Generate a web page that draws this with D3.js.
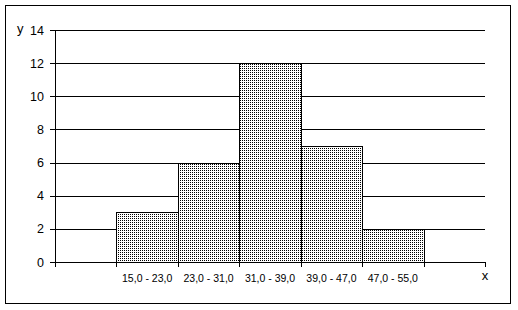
<!DOCTYPE html>
<html>
<head>
<meta charset="utf-8">
<script src="https://cdn.jsdelivr.net/npm/d3@7"></script>
<style>
body{margin:0;background:#fff}
svg text{font-family:"Liberation Sans",Arial,sans-serif;fill:#000}
</style>
</head>
<body>
<svg id="chart"></svg>
<script>
// histogram data
var binEdges=[15,23,31,39,47,55]
var counts=[3,6,12,7,2]
var binLabels=["15,0 - 23,0","23,0 - 31,0","31,0 - 39,0","39,0 - 47,0","47,0 - 55,0"]
var yTicks=[0,2,4,6,8,10,12,14]

var screen={width:518,height:310}
var margins={top:30,bottom:48,left:55,right:33}

var svg=d3.select("#chart")
    .attr("width",screen.width)
    .attr("height",screen.height)
    .attr("shape-rendering","crispEdges")

//dotted fill like the old spreadsheet pattern
var pat=svg.append("defs").append("pattern")
    .attr("id","dots")
    .attr("width",2)
    .attr("height",2)
    .attr("patternUnits","userSpaceOnUse")
pat.append("rect").attr("width",2).attr("height",2).attr("fill","#fff").attr("shape-rendering","crispEdges")
pat.append("rect").attr("width",1).attr("height",1).attr("fill","#000").attr("shape-rendering","crispEdges")

//outer frame
svg.append("rect")
    .attr("x",5.5).attr("y",5.5)
    .attr("width",505).attr("height",298)
    .attr("fill","none").attr("stroke","#000")

var step=binEdges[1]-binEdges[0]
var xScale=d3.scaleLinear()
    .domain([binEdges[0]-step,binEdges[binEdges.length-1]+step])
    .range([margins.left,screen.width-margins.right])
var yScale=d3.scaleLinear()
    .domain([0,14])
    .range([screen.height-margins.bottom,margins.top])

//gridlines
svg.append("g")
    .selectAll("line")
    .data(yTicks.filter(function(d){return d>0}))
    .enter()
    .append("line")
    .attr("x1",xScale.range()[0])
    .attr("x2",xScale.range()[1])
    .attr("y1",function(d){return Math.round(yScale(d))+0.5})
    .attr("y2",function(d){return Math.round(yScale(d))+0.5})
    .attr("stroke","#000")

//bars
svg.append("g")
    .selectAll("rect")
    .data(counts)
    .enter()
    .append("rect")
    .attr("x",function(d,i){return Math.round(xScale(binEdges[i]))+0.5})
    .attr("width",function(d,i){return Math.round(xScale(binEdges[i+1]))-Math.round(xScale(binEdges[i]))})
    .attr("y",function(d){return Math.round(yScale(d))+0.5})
    .attr("height",function(d){return Math.round(yScale(0))-Math.round(yScale(d))})
    .attr("fill","url(#dots)")
    .attr("stroke","#000")

//y axis
var yAxis=svg.append("g")
    .attr("transform","translate("+xScale.range()[0]+",0)")
    .call(d3.axisLeft(yScale).tickValues(yTicks).tickSize(5).tickPadding(6).tickFormat(d3.format("d")))
yAxis.select(".domain").attr("stroke","#000")
yAxis.selectAll("text").attr("font-size","12.5px").attr("fill","#000")

//x axis: ticks on bin edges, labels in the middle of bins
var xTickVals=d3.range(binEdges[0]-step,binEdges[binEdges.length-1]+step+1,step)
var xAxis=svg.append("g")
    .attr("transform","translate(0,"+yScale(0)+")")
    .call(d3.axisBottom(xScale).tickValues(xTickVals).tickSize(5).tickSizeOuter(0).tickFormat(""))
xAxis.select(".domain").attr("stroke","#000")

svg.append("g")
    .selectAll("text")
    .data(binLabels)
    .enter()
    .append("text")
    .attr("x",function(d,i){return xScale((binEdges[i]+binEdges[i+1])/2)})
    .attr("y",yScale(0)+20)
    .attr("text-anchor","middle")
    .attr("font-size","10.5px")
    .text(function(d){return d})

//axis titles
svg.append("text")
    .attr("x",17)
    .attr("y",33)
    .attr("font-size","13px")
    .text("y")
svg.append("text")
    .attr("x",xScale.range()[1])
    .attr("y",yScale(0)+18)
    .attr("text-anchor","middle")
    .attr("font-size","13px")
    .text("x")
</script>
</body>
</html>
